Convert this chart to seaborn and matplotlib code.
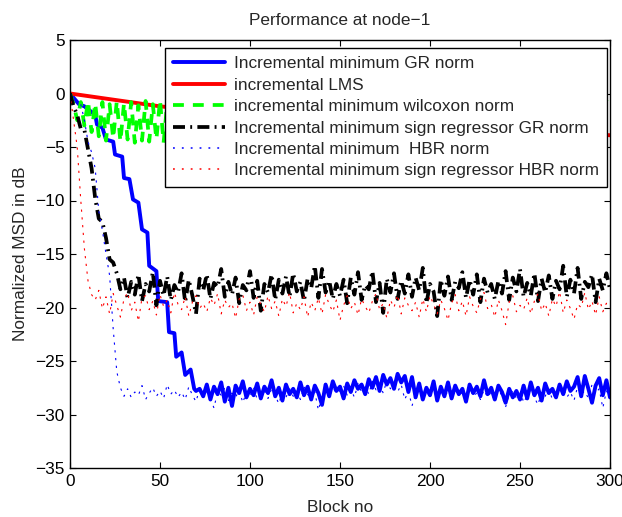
import matplotlib
matplotlib.use("Agg")
import matplotlib.pyplot as plt
from matplotlib.lines import Line2D
import seaborn as sns
import numpy as np
import pandas as pd

# ---------------- data ----------------
blocks = list(range(0, 301, 2))

gr_blocks = [0, 3, 5, 8, 11, 14, 15, 18, 20, 24, 25, 29, 30, 33, 35, 38, 40, 43, 44, 48, 49, 54, 55, 58,
             59, 62, 64, 67, 69, 70] + list(range(72, 301, 2))
gr_norm = [0, -0.6, -1.0, -1.2, -1.6, -2.0, -2.9, -3.2, -4.3, -4.5, -5.7, -5.9, -7.9, -8.0, -9.9, -10.2,
           -12.7, -13.0, -16.1, -16.6, -19.4, -19.5, -22.3, -22.4, -24.6, -24.2, -26.3, -25.8, -27.6, -27.8,
           -27.6, -28.3, -27.2, -28.6, -27.4, -28.1, -27.0, -28.8, -27.5, -29.2, -27.3, -28.0, -26.9, -28.4, -27.6,
           -28.2, -27.1, -28.5, -27.4, -28.0, -26.8, -28.3, -27.5, -28.7, -27.2, -28.1, -27.6, -28.4, -27.0, -28.2,
           -27.4, -28.6, -27.3, -28.0, -29.1, -27.2, -28.3, -26.9, -27.8, -27.4, -28.5, -27.1, -27.9, -26.8, -27.6,
           -27.2, -28.1, -26.7, -27.5, -26.5, -27.8, -26.3, -27.2, -26.6, -27.6, -26.2, -27.0, -26.4, -27.9, -26.5,
           -28.4, -27.1, -28.6, -27.5, -28.2, -26.9, -28.7, -27.4, -28.3, -27.0, -28.5, -27.3, -28.1, -27.6, -28.8,
           -27.2, -28.0, -27.4, -28.3, -26.8, -28.1, -27.5, -28.6, -27.3, -27.9, -28.9, -27.6, -28.4, -27.8, -28.6,
           -27.3, -28.5, -27.0, -28.2, -27.5, -28.7, -27.1, -28.0, -27.6, -28.4, -27.2, -28.1, -26.9, -27.8, -27.4,
           -26.5, -28.3, -26.4, -27.6, -28.9, -27.3, -26.6, -28.2, -26.8, -28.4]

lms_blocks = [0, 25, 50, 75, 100, 125, 150, 175, 200, 225, 250, 275, 300]
lms = [0, -0.6, -1.2, -1.6, -1.9, -2.2, -2.5, -2.8, -3.0, -3.3, -3.5, -3.7, -3.9]

wilcoxon = [0, -1.0, -2.5, -0.8, -3.0, -0.7, -3.6, -0.9, -4.0, -0.8, -4.4, -1.0, -4.2, -0.7, -4.5, -0.9,
            -4.3, -0.8, -4.6, -1.1, -4.4, -0.7, -4.5, -1.0, -4.3, -0.6, -4.6, -0.9, -4.2, -1.2, -4.5,
            -0.8, -4.3, -1.0, -4.6, -0.7, -4.4, -1.1, -4.2, -0.9, -4.5, -0.6, -4.3, -1.0, -4.6, -0.8,
            -4.4, -0.9, -4.2, -0.7, -4.5, -1.1, -4.3, -0.8, -4.6, -1.0, -4.4, -0.6, -4.2, -0.9, -4.5,
            -0.8, -4.4, -1.0, -4.2, -0.7, -4.6, -0.9, -4.3, -1.1, -4.5, -0.8, -4.2, -0.6, -4.4, -1.0,
            -4.6, -0.9, -4.3, -0.7, -4.5, -1.0, -4.2, -0.8, -4.4, -1.1, -4.6, -0.7, -4.3, -0.9, -4.5,
            -1.0, -4.4, -0.8, -4.2, -0.6, -4.5, -1.1, -4.3, -0.9, -4.6, -0.7, -4.4, -1.0, -4.2, -0.8,
            -4.5, -0.9, -4.3, -1.1, -4.6, -0.7, -4.4, -1.0, -4.2, -0.8, -4.5, -0.6, -4.3, -0.9, -4.6,
            -0.8, -4.4, -1.0, -4.2, -0.7, -4.5, -0.9, -4.3, -1.1, -4.6, -0.8, -4.4, -0.6, -4.2, -1.0,
            -4.3, -0.9, -4.5, -1.0, -4.4, -0.8, -4.2, -1.1, -4.6, -0.7, -1.0, -4.0, -2.0, -0.6, -0.3]

sr_gr_norm = [0, -1.2, -2.0, -3.3, -3.4, -5.2, -7.0, -9.8, -11.7, -12.0, -13.5, -15.5, -15.8, -16.8, -18.3,
              -17.2, -19.1, -17.6, -18.8, -16.9, -19.4, -17.8, -18.5, -16.7, -19.8, -17.5, -18.9, -17.1, -19.3, -17.9,
              -18.6, -16.8, -19.5, -17.4, -18.9, -20.6, -17.3, -18.4, -16.9, -19.2, -17.7, -18.1, -16.4, -19.0, -17.6,
              -18.8, -17.2, -19.6, -17.9, -18.4, -16.6, -19.1, -17.5, -20.3, -17.8, -18.6, -16.9, -19.3, -17.4, -18.7,
              -17.1, -19.0, -16.8, -18.5, -17.6, -19.4, -17.3, -18.2, -16.1, -19.1, -16.4, -18.6, -17.5, -19.2, -17.8,
              -18.9, -17.4, -19.6, -17.2, -18.8, -16.7, -19.3, -17.9, -18.3, -16.6, -19.5, -17.7, -20.5, -17.3, -18.6,
              -16.8, -19.2, -17.5, -18.7, -16.9, -19.0, -17.2, -18.4, -16.3, -19.6, -17.8, -18.5, -20.8, -17.4, -18.9,
              -17.1, -19.3, -17.6, -18.2, -16.7, -19.1, -17.4, -18.8, -16.9, -19.5, -17.3, -18.6, -17.8, -19.2, -17.5,
              -18.7, -16.6, -19.3, -17.2, -18.5, -16.4, -19.0, -17.7, -18.9, -16.8, -19.4, -17.3, -18.6, -17.0, -19.2,
              -17.5, -18.3, -16.1, -19.0, -17.4, -18.7, -16.3, -19.2, -17.6, -18.1, -16.9, -19.5, -17.3, -18.4, -16.8,
              -18.3]

hbr_norm = [0, -0.5, -0.8, -1.0, -2.5, -4.5, -5.5, -7.0, -11.0, -12.8, -15.0, -17.0, -22.0, -26.0, -27.5, -28.3,
            -27.6, -28.4, -27.9, -28.2, -27.3, -28.6, -28.0, -27.5, -28.3, -27.8, -28.5, -27.2, -28.1, -27.7, -28.4,
            -27.9, -28.6, -27.4, -28.2, -28.8, -27.6, -28.3, -27.9, -28.5, -29.4, -27.8, -28.2, -27.5, -28.7, -28.0,
            -28.4, -27.7, -28.9, -27.9, -28.3, -27.5, -28.6, -28.1, -27.8, -28.5, -27.6, -28.2, -29.0, -27.9, -28.4,
            -27.6, -28.3, -27.8, -28.6, -27.4, -28.1, -28.7, -27.9, -29.6, -28.2, -27.7, -28.4, -27.5, -28.0, -27.8,
            -27.3, -28.2, -27.6, -28.4, -27.1, -27.9, -27.4, -28.1, -26.9, -27.7, -27.2, -28.0, -26.8, -27.6, -27.3,
            -27.9, -27.2, -28.6, -27.8, -29.2, -28.1, -27.6, -28.5, -27.9, -28.3, -27.5, -28.8, -27.7, -28.2, -27.9,
            -28.5, -27.6, -28.2, -27.9, -28.7, -27.4, -28.3, -28.0, -28.6, -27.7, -28.4, -27.9, -28.8, -27.6, -28.3,
            -29.3, -28.1, -27.8, -28.5, -27.6, -28.9, -28.2, -27.7, -28.4, -29.1, -27.9, -28.3, -27.6, -28.6, -27.8,
            -28.2, -27.5, -28.4, -27.9, -28.7, -27.4, -28.1, -27.8, -28.5, -27.2, -28.0, -27.6, -29.4, -27.8, -28.3]

sr_hbr_norm = [0, -2.5, -5.0, -10.0, -14.5, -17.5, -18.8, -19.3,
               -18.4, -20.1, -19.0, -20.6, -18.7, -19.8, -20.9, -19.2, -18.6, -20.3, -19.5, -21.3, -19.1, -18.9, -20.2,
               -19.4, -20.7, -18.8, -19.9, -19.3, -20.5, -18.6, -19.7, -20.2, -19.0, -20.8, -19.5, -18.9, -20.1, -19.6,
               -20.4, -19.1, -19.8, -18.7, -20.6, -19.3, -20.0, -19.6, -21.0, -19.2, -18.8, -20.3, -19.5, -20.7, -19.0,
               -19.7, -20.4, -18.9, -20.1, -19.4, -20.8, -19.2, -19.9, -18.6, -20.5, -19.6, -20.2, -19.0, -20.9, -19.5,
               -20.3, -19.1, -20.6, -18.8, -19.7, -20.4, -19.3, -21.2, -19.8, -18.9, -20.1, -19.5, -20.7, -19.2, -19.9,
               -20.5, -19.4, -18.7, -20.2, -19.6, -21.0, -19.3, -20.0, -18.8, -20.6, -19.1, -19.8, -20.3, -19.5, -20.9,
               -19.2, -20.4, -18.9, -19.7, -20.6, -19.3, -20.1, -21.2, -19.6, -18.8, -20.3, -19.4, -20.8, -19.0, -19.9,
               -20.5, -19.2, -18.6, -20.1, -19.7, -20.9, -19.3, -20.3, -21.6, -19.5, -18.9, -20.4, -19.8, -20.2, -19.1,
               -20.6, -19.4, -18.7, -20.3, -19.6, -20.8, -19.2, -19.9, -18.5, -20.5, -19.3, -20.1, -21.1, -19.7, -20.0,
               -18.6, -20.2, -19.4, -20.7, -19.0, -20.4, -19.6, -20.1]

labels = ["Incremental minimum GR norm",
          "incremental LMS",
          "incremental minimum wilcoxon norm",
          "Incremental minimum sign regressor GR norm",
          "Incremental minimum  HBR norm",
          "Incremental minimum sign regressor HBR norm"]

x_ticks = [0, 50, 100, 150, 200, 250, 300]
y_ticks = [-35, -30, -25, -20, -15, -10, -5, 0, 5]

# ---------------- style ----------------
sns.set_style("ticks")
plt.rcParams["font.family"] = ["Liberation Sans", "DejaVu Sans"]
plt.rcParams["axes.unicode_minus"] = True
FS = 12.4

fig = plt.figure(figsize=(6.22, 5.17), dpi=100)
ax = fig.add_axes([70 / 622, 1 - 468 / 517, 540 / 622, 428 / 517])

series = [
    (gr_blocks, gr_norm, "#0000ff", 2.8, "-"),
    (lms_blocks, lms, "#ff0000", 2.8, "-"),
    (blocks, wilcoxon, "#00ff00", 2.7, (0, (2.9, 2.4))),
    (blocks, sr_gr_norm, "#000000", 2.7, (0, (3.2, 1.4, 0.5, 1.4))),
    (blocks, hbr_norm, "#0000ff", 0.8, (0, (2.0, 5.0))),
    (blocks, sr_hbr_norm, "#ff0000", 0.8, (0, (2.0, 5.0))),
]
proxies = []
for (xs, ys, col, lw, ls), lab in zip(series, labels):
    n = min(len(xs), len(ys))
    df = pd.DataFrame({"block": xs[:n], "msd": ys[:n]})
    sns.lineplot(data=df, x="block", y="msd", ax=ax, color=col, linewidth=lw,
                 linestyle=ls, estimator=None, legend=False)
    if lw < 1.5:
        proxies.append(Line2D([], [], color=col, linewidth=1.1, linestyle=(0, (1.2, 4.6)),
                              dash_capstyle="butt"))
    else:
        proxies.append(Line2D([], [], color=col, linewidth=lw, linestyle=ls))

ax.set_xlim(0, 300)
ax.set_ylim(-35, 5)
ax.set_xticks(x_ticks)
ax.set_yticks(y_ticks)
ax.tick_params(direction="in", top=True, right=True, length=4, width=0.8,
               labelsize=FS, colors="black", pad=4)
for sp in ax.spines.values():
    sp.set_visible(True)
    sp.set_linewidth(1.0)
    sp.set_color("black")

ax.set_xlabel("Block no", fontsize=FS, labelpad=8)
ax.set_ylabel("Normalized MSD in dB", fontsize=FS, labelpad=5)
ax.set_title("Performance at node\u22121", fontsize=FS, pad=11)

leg = ax.legend(handles=proxies, labels=labels,
                loc="upper right", bbox_to_anchor=((607 - 70) / 540, 1 - (48 - 40) / 428),
                borderaxespad=0, fontsize=FS, frameon=True, fancybox=False,
                edgecolor="black", framealpha=1, handlelength=3.0, labelspacing=0.37,
                borderpad=0.48, handletextpad=0.5)
leg.get_frame().set_linewidth(1.0)

fig.savefig("out.png", dpi=100)
